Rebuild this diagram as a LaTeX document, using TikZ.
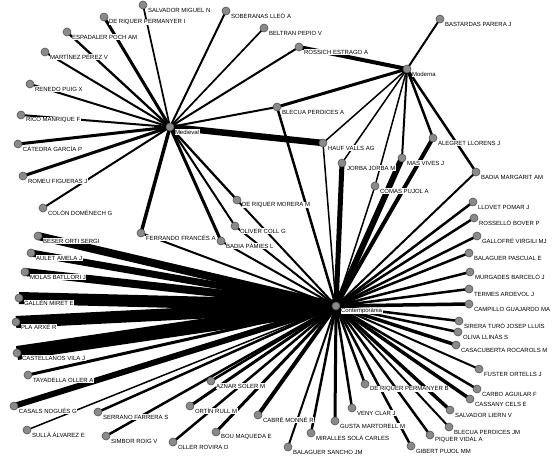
\documentclass[tikz,border=0pt]{standalone}
\usepackage{fontspec}
\setmainfont{Liberation Sans}
\usetikzlibrary{backgrounds}
\definecolor{dotfill}{HTML}{8A8A8A}
\definecolor{dotstroke}{HTML}{555555}

\begin{document}
\begin{tikzpicture}[
    x=1pt, y=-1pt,
    dot/.style={circle, draw=dotstroke, fill=dotfill, line width=0.6pt,
                minimum size=8pt, inner sep=0pt},
    lbl/.style={font=\fontsize{6}{7}\selectfont, fill=white, inner sep=0.5pt,
                anchor=west, yshift=-5pt},
    tag/.style={label={[lbl]0:#1}},
    lk/.style={draw=black, line width=#1},
    lk/.default=2pt,
]
\useasboundingbox (0,0) rectangle (554,463);

% ---- Hubs -------------------------------------------------------------------
\node[dot, tag=Medieval]      (med) at (170,127) {};
\node[dot, tag=Moderna]       (mod) at (407,69)  {};
\node[dot, tag=Contemporània] (con) at (336,306) {};

% ---- Upper left (Medieval) ----------------------------------------------------
\node[dot, tag=SALVADOR MIGUEL N]     (salvMN) at (143,5)   {};
\node[dot, tag=DE RIQUER PERMANYER I] (riqPI)  at (104,17)  {};
\node[dot, tag=ESPADALER POCH AM]     (espPA)  at (67,32)   {};
\node[dot, tag=MARTÍNEZ PÉREZ V]      (marPV)  at (45,52)   {};
\node[dot, tag=RENEDO PUIG X]         (renPX)  at (30,84)   {};
\node[dot, tag=RICO MANRIQUE F]       (ricMF)  at (21,115)  {};
\node[dot, tag=CÁTEDRA GARCÍA P]      (catGP)  at (18,144)  {};
\node[dot, tag=ROMEU FIGUERAS J]      (romFJ)  at (23,176)  {};
\node[dot, tag=COLÓN DOMÈNECH G]      (colDG)  at (43,208)  {};
\node[dot, tag=SOBERANAS LLEÓ A]      (sobLA)  at (226,11)  {};
\node[dot, tag=BELTRAN PEPIO V]       (belPV)  at (264,28)  {};
\node[dot, tag=ROSSICH ESTRAGO A]     (rosEA)  at (299,47)  {};
\node[dot, tag=BLECUA PERDICES A]     (bleA)   at (277,107) {};
\node[dot, tag=HAUF VALLS AG]         (hauVA)  at (323,143) {};
\node[dot, tag=FERRANDO FRANCÉS A]    (ferFA)  at (141,233) {};
\node[dot, tag=DE RIQUER MORERA M]    (riqMM)  at (237,200) {};
\node[dot, tag=OLIVER COLL G]         (oliCG)  at (235,226) {};
\node[dot, tag=BADIA PÀMIES L]        (badPL)  at (221,241) {};

% ---- Upper right (Moderna) ----------------------------------------------------
\node[dot, tag=BASTARDAS PARERA J]    (basPJ)  at (440,19)  {};
\node[dot, tag=ALEGRET LLORENS J]     (aleLJ)  at (433,138) {};
\node[dot, tag=JORBA JORBA M]         (jorJM)  at (342,163) {};
\node[dot, tag=MAS VIVES J]           (masVJ)  at (402,158) {};
\node[dot, tag=COMAS PUJOL A]         (comPA)  at (375,186) {};
\node[dot, tag=BADIA MARGARIT AM]     (badMA)  at (476,172) {};

% ---- Right column ---------------------------------------------------------------
\node[dot, tag=LLOVET POMAR J]        (lloPJ)  at (473,202) {};
\node[dot, tag=ROSSELLÓ BOVER P]      (rosBP)  at (474,218) {};
\node[dot, tag=GALLOFRÉ VIRGILI MJ]   (galVM)  at (477,236) {};
\node[dot, tag=BALAGUER PASCUAL E]    (balPE)  at (469,253) {};
\node[dot, tag=MURGADES BARCELÓ J]    (murBJ)  at (470,272) {};
\node[dot, tag=TERMES ARDEVOL J]      (terAJ)  at (469,289) {};
\node[dot, tag=CAMPILLO GUAJARDO MA]  (camGM)  at (469,304) {};
\node[dot, tag=SIRERA TURÓ JOSEP LLUÍS] (sirTJ) at (459,321) {};
\node[dot, tag=OLIVA LLINÀS S]        (olLS)   at (458,332) {};
\node[dot, tag=CASACUBERTA ROCAROLS M] (casRM) at (456,345) {};
\node[dot, tag=FUSTER ORTELLS J]      (fusOJ)  at (479,369) {};
\node[dot, tag=CARBO AGUILAR F]       (carAF)  at (477,389) {};
\node[dot, tag=CASSANY CELS E]        (casCE)  at (470,399) {};
\node[dot, tag=SALVADOR LIERN V]      (salLV)  at (450,410) {};
\node[dot, tag=BLECUA PERDICES JM]    (bleJM)  at (449,427) {};
\node[dot, tag=PIQUER VIDAL A]        (piqVA)  at (430,435) {};
\node[dot, tag=GIBERT PUJOL MM]       (gibPM)  at (411,446) {};

% ---- Left column ----------------------------------------------------------------
\node[dot, tag=BESER ORTI SERGI]      (besOS)  at (38,236)  {};
\node[dot, tag=AULET AMELA J]         (aulAJ)  at (31,253)  {};
\node[dot, tag=MOLAS BATLLORI J]      (molBJ)  at (25,272)  {};
\node[dot, tag=GALLÉN MIRET E]        (galME)  at (19,298)  {};
\node[dot, tag=PLA ARXÉ R]            (plaAR)  at (16,322)  {};
\node[dot, tag=CASTELLANOS VILA J]    (casVJ)  at (17,353)  {};
\node[dot, tag=TAYADELLA OLLER A]     (tayOA)  at (28,375)  {};
\node[dot, tag=CASALS NOGUÉS G]       (casNG)  at (14,406)  {};
\node[dot, tag=SULLÀ ÁLVAREZ E]       (sulAE)  at (27,430)  {};

% ---- Bottom row -------------------------------------------------------------------
\node[dot, tag=SERRANO FARRERA S]     (serFS)  at (98,412)  {};
\node[dot, tag=SIMBOR ROIG V]         (simRV)  at (106,436) {};
\node[dot, tag=OLLER ROVIRA D]        (olRD)   at (173,442) {};
\node[dot, tag=AZNAR SOLER M]         (aznSM)  at (211,381) {};
\node[dot, tag=ORTÍN RULL M]          (ortRM)  at (190,406) {};
\node[dot, tag=BOU MAQUEDA E]         (bouME)  at (216,432) {};
\node[dot, tag=CABRÉ MONNÉ R]         (cabMR)  at (258,415) {};
\node[dot, tag=BALAGUER SANCHO JM]    (balSJ)  at (288,447) {};
\node[dot, tag=MIRALLES SOLÀ CARLES]  (mirSC)  at (311,433) {};
\node[dot, tag=GUSTA MARTORELL M]     (gusMM)  at (335,421) {};
\node[dot, tag=VENY CLAR J]           (venCJ)  at (352,408) {};
\node[dot, tag=DE RIQUER PERMANYER B] (riqPB)  at (365,384) {};

\begin{pgfonlayer}{background}
\fill[white] (0,0) rectangle (554,463);

% ---- Medieval links -------------------------------------------------------------
\draw[lk=1.7pt] (med.center) -- (salvMN.center);
\draw[lk=3pt]   (med.center) -- (riqPI.center);
\draw[lk=2.3pt] (med.center) -- (espPA.center);
\draw[lk=2pt]   (med.center) -- (marPV.center);
\draw[lk=2pt]   (med.center) -- (renPX.center);
\draw[lk=2pt]   (med.center) -- (ricMF.center);
\draw[lk=3pt]   (med.center) -- (catGP.center);
\draw[lk=3pt]   (med.center) -- (romFJ.center);
\draw[lk=2pt]   (med.center) -- (colDG.center);
\draw[lk=2pt]   (med.center) -- (sobLA.center);
\draw[lk=1.7pt] (med.center) -- (belPV.center);
\draw[lk=2pt]   (med.center) -- (rosEA.center);
\draw[lk=2pt]   (med.center) -- (bleA.center);
\draw[lk=6.5pt] (med.center) -- (hauVA.center);
\draw[lk=3.5pt] (med.center) -- (ferFA.center);
\draw[lk=2.3pt] (med.center) -- (riqMM.center);
\draw[lk=2pt]   (med.center) -- (oliCG.center);
\draw[lk=3pt]   (med.center) -- (badPL.center);

% ---- Moderna links --------------------------------------------------------------
\draw[lk=2pt]   (mod.center) -- (basPJ.center);
\draw[lk=4pt]   (mod.center) -- (rosEA.center);
\draw[lk=3pt]   (mod.center) -- (bleA.center);
\draw[lk=1.5pt] (mod.center) -- (hauVA.center);
\draw[lk=1.5pt] (mod.center) -- (jorJM.center);
\draw[lk=1.5pt] (mod.center) -- (comPA.center);
\draw[lk=2pt]   (mod.center) -- (masVJ.center);
\draw[lk=2.5pt] (mod.center) -- (aleLJ.center);
\draw[lk=2.5pt] (mod.center) -- (badMA.center);

% ---- Contemporània links --------------------------------------------------------
\draw[lk=1.5pt] (con.center) -- (hauVA.center);
\draw[lk=2.5pt] (con.center) -- (bleA.center);
\draw[lk=5pt]   (con.center) -- (jorJM.center);
\draw[lk=6pt]   (con.center) -- (masVJ.center);
\draw[lk=1.5pt] (con.center) -- (comPA.center);
\draw[lk=4pt]   (con.center) -- (aleLJ.center);
\draw[lk=2pt]   (con.center) -- (badMA.center);
\draw[lk=2pt]   (con.center) -- (ferFA.center);
\draw[lk=2pt]   (con.center) -- (riqMM.center);
\draw[lk=2pt]   (con.center) -- (oliCG.center);
\draw[lk=2pt]   (con.center) -- (badPL.center);
\draw[lk=8pt]   (con.center) -- (besOS.center);
\draw[lk=7pt]   (con.center) -- (aulAJ.center);
\draw[lk=8pt]   (con.center) -- (molBJ.center);
\draw[lk=12pt]  (con.center) -- (galME.center);
\draw[lk=12pt]  (con.center) -- (plaAR.center);
\draw[lk=14pt]  (con.center) -- (casVJ.center);
\draw[lk=3pt]   (con.center) -- (tayOA.center);
\draw[lk=6pt]   (con.center) -- (casNG.center);
\draw[lk=1.5pt] (con.center) -- (sulAE.center);
\draw[lk=2.5pt] (con.center) -- (serFS.center);
\draw[lk=2.5pt] (con.center) -- (simRV.center);
\draw[lk=2.5pt] (con.center) -- (olRD.center);
\draw[lk=2.5pt] (con.center) -- (aznSM.center);
\draw[lk=3pt]   (con.center) -- (ortRM.center);
\draw[lk=3pt]   (con.center) -- (bouME.center);
\draw[lk=4pt]   (con.center) -- (cabMR.center);
\draw[lk=2pt]   (con.center) -- (balSJ.center);
\draw[lk=2.5pt] (con.center) -- (mirSC.center);
\draw[lk=3pt]   (con.center) -- (gusMM.center);
\draw[lk=2.5pt] (con.center) -- (venCJ.center);
\draw[lk=2.5pt] (con.center) -- (riqPB.center);
\draw[lk=2.5pt] (con.center) -- (gibPM.center);
\draw[lk=2.5pt] (con.center) -- (piqVA.center);
\draw[lk=2pt]   (con.center) -- (bleJM.center);
\draw[lk=3.5pt] (con.center) -- (salLV.center);
\draw[lk=3.5pt] (con.center) -- (casCE.center);
\draw[lk=2.5pt] (con.center) -- (carAF.center);
\draw[lk=2pt]   (con.center) -- (fusOJ.center);
\draw[lk=3.5pt] (con.center) -- (casRM.center);
\draw[lk=2.5pt] (con.center) -- (olLS.center);
\draw[lk=2.5pt] (con.center) -- (sirTJ.center);
\draw[lk=3.5pt] (con.center) -- (camGM.center);
\draw[lk=2.5pt] (con.center) -- (terAJ.center);
\draw[lk=2.5pt] (con.center) -- (murBJ.center);
\draw[lk=2.5pt] (con.center) -- (balPE.center);
\draw[lk=2.5pt] (con.center) -- (galVM.center);
\draw[lk=2.5pt] (con.center) -- (rosBP.center);
\draw[lk=2.5pt] (con.center) -- (lloPJ.center);
\end{pgfonlayer}

\end{tikzpicture}
\end{document}
